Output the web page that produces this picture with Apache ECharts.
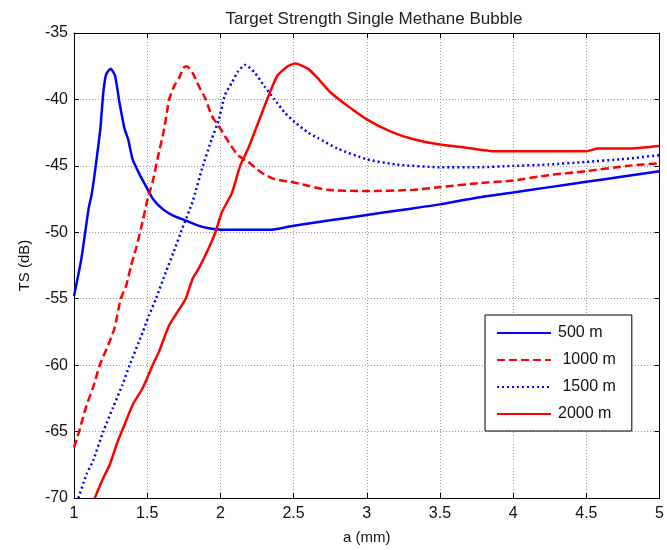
<!DOCTYPE html>
<html>
<head>
<meta charset="utf-8">
<title>Target Strength Single Methane Bubble</title>
<script src="https://cdn.jsdelivr.net/npm/echarts@6/dist/echarts.min.js"></script>
<style>
  html, body { margin: 0; padding: 0; background: #ffffff; }
  #chart { width: 667px; height: 550px; }
</style>
</head>
<body>
<div id="chart"></div>
<script>
// Bubble radius a (mm) and target strength TS (dB) for each depth
const depthNames = ['500 m', ' 1000 m', ' 1500 m', '2000 m'];

const x500 = [1, 1.05, 1.1, 1.12, 1.14, 1.18, 1.2, 1.22, 1.25, 1.28, 1.31, 1.345, 1.37, 1.4, 1.45, 1.49,
  1.54, 1.6, 1.67, 1.76, 1.85, 1.92, 2.0, 2.2, 2.35, 2.5, 2.75, 3, 3.25, 3.5, 3.75, 4, 4.25, 4.5, 4.75, 5];
const ts500 = [-54.8, -52.0, -48.2, -47.2, -45.7, -42.2, -39.5, -38.1, -37.7, -38.2, -40.2, -42.2, -43.0, -44.5, -45.7, -46.5,
  -47.5, -48.2, -48.7, -49.1, -49.5, -49.7, -49.8, -49.8, -49.8, -49.5, -49.1, -48.7, -48.3, -47.9, -47.4, -47.0, -46.6, -46.2, -45.8, -45.4];

const x1000 = [1, 1.04, 1.086, 1.13, 1.176, 1.244, 1.277, 1.32, 1.357, 1.39, 1.424, 1.458, 1.503, 1.537, 1.57, 1.616,
  1.65, 1.684, 1.717, 1.75, 1.77, 1.81, 1.853, 1.9, 1.94, 2.0, 2.056, 2.12, 2.19, 2.28, 2.37, 2.48, 2.6, 2.73, 3.0,
  3.32, 3.5, 3.77, 4.0, 4.24, 4.5, 4.78, 5];
const ts1000 = [-66.2, -64.8, -63.0, -61.7, -60.0, -58.2, -57.2, -55.0, -54.0, -52.5, -51.2, -49.7, -47.5, -46.2, -44.5, -42.2,
  -40.0, -39.0, -38.4, -37.6, -37.5, -38.0, -39.0, -40.0, -41.2, -42.2, -43.2, -44.2, -44.7, -45.5, -46.0, -46.2, -46.5, -46.8, -46.9,
  -46.8, -46.6, -46.3, -46.1, -45.7, -45.4, -45.0, -44.8];

const x1500 = [1.03, 1.086, 1.13, 1.2, 1.266, 1.33, 1.38, 1.47, 1.514, 1.56, 1.627, 1.68, 1.74, 1.81, 1.875, 1.94,
  1.99, 2.03, 2.08, 2.12, 2.17, 2.236, 2.3, 2.37, 2.44, 2.507, 2.6, 2.665, 2.8, 3.0, 3.2, 3.5, 3.77, 4.0, 4.24, 4.5, 4.74, 5];
const ts1500 = [-70.0, -68.2, -67.2, -65.0, -63.2, -61.5, -60.0, -57.5, -56.2, -55.0, -53.0, -51.5, -49.7, -47.7, -45.2, -43.0,
  -41.5, -39.7, -38.7, -37.9, -37.4, -38.0, -39.0, -40.0, -41.0, -41.7, -42.5, -42.9, -43.7, -44.5, -44.9, -45.1, -45.1, -45.0, -44.9, -44.7, -44.5, -44.2];

const x2000 = [1.142, 1.2, 1.244, 1.3, 1.345, 1.4, 1.47, 1.537, 1.58, 1.65, 1.695, 1.763, 1.81, 1.853, 1.92, 1.966,
  2.01, 2.08, 2.135, 2.19, 2.26, 2.33, 2.39, 2.46, 2.51, 2.6, 2.665, 2.755, 2.87, 3.0, 3.16, 3.32, 3.5, 3.66, 3.88,
  4.1, 4.5, 4.58, 4.78, 5];
const ts2000 = [-70.0, -68.5, -67.5, -65.7, -64.5, -63.0, -61.7, -60.0, -59.0, -57.0, -56.2, -55.0, -53.5, -52.7, -51.2, -50.0,
  -48.5, -47.0, -45.0, -43.7, -41.7, -39.7, -38.2, -37.5, -37.3, -37.7, -38.4, -39.5, -40.5, -41.5, -42.4, -43.0, -43.4, -43.6, -43.9,
  -43.9, -43.9, -43.7, -43.7, -43.5];

const xTicks = { min: 1, max: 5, interval: 0.5 };
const yTicks = { min: -70, max: -35, interval: 5 };

const FONT = 'Liberation Sans, Arial, sans-serif';

function pairs(xs, ys) {
  return xs.map((x, i) => [x, ys[i]]);
}

const chart = echarts.init(document.getElementById('chart'), null, { renderer: 'canvas' });

const tickInside = { show: true, inside: true, length: 5, lineStyle: { color: '#000', width: 1 } };
const gridLine = { show: true, lineStyle: { color: '#9a9a9a', type: [1, 2], width: 1 } };

function lineSeries(name, xs, ys, color, type) {
  return {
    name: name,
    type: 'line',
    xAxisIndex: 0,
    yAxisIndex: 0,
    data: pairs(xs, ys),
    symbol: 'none',
    smooth: 0.2,
    lineStyle: { color: color, width: 2.5, type: type },
    itemStyle: { color: color },
    emphasis: { disabled: true },
    z: 3
  };
}

chart.setOption({
  animation: false,
  backgroundColor: '#ffffff',
  textStyle: { fontFamily: FONT },
  title: {
    text: 'Target Strength Single Methane Bubble',
    left: 369,
    textAlign: 'center',
    top: 6,
    textStyle: { fontFamily: FONT, fontSize: 17, fontWeight: 'normal', color: '#222' }
  },
  grid: { left: 74, top: 33, width: 589, height: 467, containLabel: false },
  legend: {
    orient: 'vertical',
    left: 485,
    top: 315,
    padding: [10, 16, 9, 11],
    itemGap: 11,
    itemWidth: 54,
    itemHeight: 14,
    backgroundColor: '#ffffff',
    borderColor: '#000',
    borderWidth: 1,
    borderRadius: 0,
    selectedMode: false,
    itemStyle: { opacity: 0 },
    textStyle: { fontFamily: FONT, fontSize: 16, color: '#111', padding: [0, 0, 0, 2] },
    data: depthNames
  },
  xAxis: [
    {
      type: 'value', min: xTicks.min, max: xTicks.max, interval: xTicks.interval,
      name: 'a (mm)', nameLocation: 'middle', nameGap: 32,
      nameTextStyle: { fontFamily: FONT, fontSize: 15, color: '#111' },
      axisLine: { show: true, onZero: false, lineStyle: { color: '#000', width: 1 } },
      axisTick: tickInside,
      axisLabel: { fontFamily: FONT, fontSize: 16, color: '#111', margin: 8 },
      splitLine: gridLine
    },
    {
      type: 'value', position: 'top', min: xTicks.min, max: xTicks.max, interval: xTicks.interval,
      axisLine: { show: true, onZero: false, lineStyle: { color: '#000', width: 1 } },
      axisTick: tickInside,
      axisLabel: { show: false },
      splitLine: { show: false }
    }
  ],
  yAxis: [
    {
      type: 'value', min: yTicks.min, max: yTicks.max, interval: yTicks.interval,
      name: 'TS (dB)', nameLocation: 'middle', nameGap: 42, nameRotate: 90,
      nameTextStyle: { fontFamily: FONT, fontSize: 15, color: '#111' },
      axisLine: { show: true, onZero: false, lineStyle: { color: '#000', width: 1 } },
      axisTick: tickInside,
      axisLabel: { fontFamily: FONT, fontSize: 16, color: '#111', margin: 6 },
      splitLine: gridLine
    },
    {
      type: 'value', position: 'right', min: yTicks.min, max: yTicks.max, interval: yTicks.interval,
      axisLine: { show: true, onZero: false, lineStyle: { color: '#000', width: 1 } },
      axisTick: tickInside,
      axisLabel: { show: false },
      splitLine: { show: false }
    }
  ],
  series: [
    lineSeries(depthNames[0], x500, ts500, '#0000ff', 'solid'),
    lineSeries(depthNames[1], x1000, ts1000, '#ff0000', [8, 4]),
    lineSeries(depthNames[2], x1500, ts1500, '#0000ff', [2, 3]),
    lineSeries(depthNames[3], x2000, ts2000, '#ff0000', 'solid')
  ]
});
</script>
</body>
</html>
